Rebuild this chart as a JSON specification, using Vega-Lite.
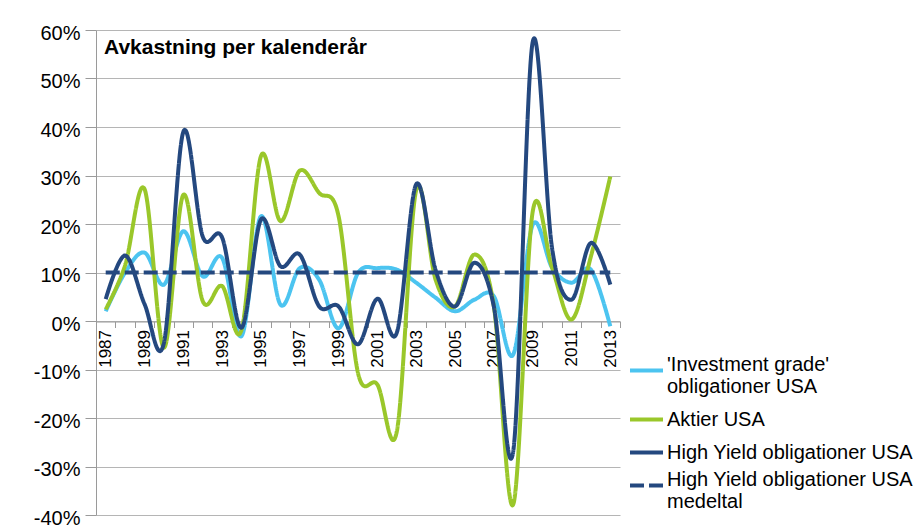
{
  "$schema": "https://vega.github.io/schema/vega-lite/v6.json",
  "width": 524,
  "height": 485,
  "autosize": {"type": "none"},
  "padding": {"left": 96, "top": 30, "right": 304, "bottom": 15},
  "background": "white",
  "config": {"font": "Liberation Sans", "view": {"stroke": null}},
  "title": {"text": "Avkastning per kalenderår", "anchor": "start", "frame": "group", "offset": -35, "dx": 8, "fontSize": 21, "fontWeight": "bold", "font": "Liberation Sans", "color": "#000000"},
  "data": {"values": [
    {"year": 1987, "series": "'Investment grade' obligationer USA", "value": 2.0},
    {"year": 1988, "series": "'Investment grade' obligationer USA", "value": 10.0},
    {"year": 1989, "series": "'Investment grade' obligationer USA", "value": 14.1},
    {"year": 1990, "series": "'Investment grade' obligationer USA", "value": 7.5},
    {"year": 1991, "series": "'Investment grade' obligationer USA", "value": 18.5},
    {"year": 1992, "series": "'Investment grade' obligationer USA", "value": 9.2},
    {"year": 1993, "series": "'Investment grade' obligationer USA", "value": 13.0},
    {"year": 1994, "series": "'Investment grade' obligationer USA", "value": -3.1},
    {"year": 1995, "series": "'Investment grade' obligationer USA", "value": 21.6},
    {"year": 1996, "series": "'Investment grade' obligationer USA", "value": 3.4},
    {"year": 1997, "series": "'Investment grade' obligationer USA", "value": 10.9},
    {"year": 1998, "series": "'Investment grade' obligationer USA", "value": 8.5},
    {"year": 1999, "series": "'Investment grade' obligationer USA", "value": -1.5},
    {"year": 2000, "series": "'Investment grade' obligationer USA", "value": 9.9},
    {"year": 2001, "series": "'Investment grade' obligationer USA", "value": 10.9},
    {"year": 2002, "series": "'Investment grade' obligationer USA", "value": 10.6},
    {"year": 2003, "series": "'Investment grade' obligationer USA", "value": 7.9},
    {"year": 2004, "series": "'Investment grade' obligationer USA", "value": 4.8},
    {"year": 2005, "series": "'Investment grade' obligationer USA", "value": 2.0},
    {"year": 2006, "series": "'Investment grade' obligationer USA", "value": 4.4},
    {"year": 2007, "series": "'Investment grade' obligationer USA", "value": 5.1},
    {"year": 2008, "series": "'Investment grade' obligationer USA", "value": -6.9},
    {"year": 2009, "series": "'Investment grade' obligationer USA", "value": 19.8},
    {"year": 2010, "series": "'Investment grade' obligationer USA", "value": 11.0},
    {"year": 2011, "series": "'Investment grade' obligationer USA", "value": 7.9},
    {"year": 2012, "series": "'Investment grade' obligationer USA", "value": 10.6},
    {"year": 2013, "series": "'Investment grade' obligationer USA", "value": -1.1},
    {"year": 1987, "series": "Aktier USA", "value": 2.4},
    {"year": 1988, "series": "Aktier USA", "value": 11.5},
    {"year": 1989, "series": "Aktier USA", "value": 27.2},
    {"year": 1990, "series": "Aktier USA", "value": -5.5},
    {"year": 1991, "series": "Aktier USA", "value": 26.0},
    {"year": 1992, "series": "Aktier USA", "value": 4.1},
    {"year": 1993, "series": "Aktier USA", "value": 7.2},
    {"year": 1994, "series": "Aktier USA", "value": -1.8},
    {"year": 1995, "series": "Aktier USA", "value": 34.0},
    {"year": 1996, "series": "Aktier USA", "value": 20.6},
    {"year": 1997, "series": "Aktier USA", "value": 31.0},
    {"year": 1998, "series": "Aktier USA", "value": 26.4},
    {"year": 1999, "series": "Aktier USA", "value": 21.6},
    {"year": 2000, "series": "Aktier USA", "value": -10.7},
    {"year": 2001, "series": "Aktier USA", "value": -13.1},
    {"year": 2002, "series": "Aktier USA", "value": -22.8},
    {"year": 2003, "series": "Aktier USA", "value": 27.0},
    {"year": 2004, "series": "Aktier USA", "value": 8.5},
    {"year": 2005, "series": "Aktier USA", "value": 3.0},
    {"year": 2006, "series": "Aktier USA", "value": 13.7},
    {"year": 2007, "series": "Aktier USA", "value": 3.0},
    {"year": 2008, "series": "Aktier USA", "value": -37.8},
    {"year": 2009, "series": "Aktier USA", "value": 22.5},
    {"year": 2010, "series": "Aktier USA", "value": 11.0},
    {"year": 2011, "series": "Aktier USA", "value": 0.3},
    {"year": 2012, "series": "Aktier USA", "value": 13.3},
    {"year": 2013, "series": "Aktier USA", "value": 29.8},
    {"year": 1987, "series": "High Yield obligationer USA", "value": 4.5},
    {"year": 1988, "series": "High Yield obligationer USA", "value": 13.5},
    {"year": 1989, "series": "High Yield obligationer USA", "value": 3.5},
    {"year": 1990, "series": "High Yield obligationer USA", "value": -4.5},
    {"year": 1991, "series": "High Yield obligationer USA", "value": 39.0},
    {"year": 1992, "series": "High Yield obligationer USA", "value": 17.4},
    {"year": 1993, "series": "High Yield obligationer USA", "value": 17.2},
    {"year": 1994, "series": "High Yield obligationer USA", "value": -1.4},
    {"year": 1995, "series": "High Yield obligationer USA", "value": 20.9},
    {"year": 1996, "series": "High Yield obligationer USA", "value": 11.3},
    {"year": 1997, "series": "High Yield obligationer USA", "value": 13.7},
    {"year": 1998, "series": "High Yield obligationer USA", "value": 3.0},
    {"year": 1999, "series": "High Yield obligationer USA", "value": 3.0},
    {"year": 2000, "series": "High Yield obligationer USA", "value": -4.8},
    {"year": 2001, "series": "High Yield obligationer USA", "value": 4.6},
    {"year": 2002, "series": "High Yield obligationer USA", "value": -2.4},
    {"year": 2003, "series": "High Yield obligationer USA", "value": 28.2},
    {"year": 2004, "series": "High Yield obligationer USA", "value": 10.5},
    {"year": 2005, "series": "High Yield obligationer USA", "value": 3.0},
    {"year": 2006, "series": "High Yield obligationer USA", "value": 12.0},
    {"year": 2007, "series": "High Yield obligationer USA", "value": 3.0},
    {"year": 2008, "series": "High Yield obligationer USA", "value": -26.8},
    {"year": 2009, "series": "High Yield obligationer USA", "value": 57.5},
    {"year": 2010, "series": "High Yield obligationer USA", "value": 15.0},
    {"year": 2011, "series": "High Yield obligationer USA", "value": 4.4},
    {"year": 2012, "series": "High Yield obligationer USA", "value": 16.1},
    {"year": 2013, "series": "High Yield obligationer USA", "value": 7.5},
    {"year": 1987, "series": "High Yield obligationer USA medeltal", "value": 10},
    {"year": 1988, "series": "High Yield obligationer USA medeltal", "value": 10},
    {"year": 1989, "series": "High Yield obligationer USA medeltal", "value": 10},
    {"year": 1990, "series": "High Yield obligationer USA medeltal", "value": 10},
    {"year": 1991, "series": "High Yield obligationer USA medeltal", "value": 10},
    {"year": 1992, "series": "High Yield obligationer USA medeltal", "value": 10},
    {"year": 1993, "series": "High Yield obligationer USA medeltal", "value": 10},
    {"year": 1994, "series": "High Yield obligationer USA medeltal", "value": 10},
    {"year": 1995, "series": "High Yield obligationer USA medeltal", "value": 10},
    {"year": 1996, "series": "High Yield obligationer USA medeltal", "value": 10},
    {"year": 1997, "series": "High Yield obligationer USA medeltal", "value": 10},
    {"year": 1998, "series": "High Yield obligationer USA medeltal", "value": 10},
    {"year": 1999, "series": "High Yield obligationer USA medeltal", "value": 10},
    {"year": 2000, "series": "High Yield obligationer USA medeltal", "value": 10},
    {"year": 2001, "series": "High Yield obligationer USA medeltal", "value": 10},
    {"year": 2002, "series": "High Yield obligationer USA medeltal", "value": 10},
    {"year": 2003, "series": "High Yield obligationer USA medeltal", "value": 10},
    {"year": 2004, "series": "High Yield obligationer USA medeltal", "value": 10},
    {"year": 2005, "series": "High Yield obligationer USA medeltal", "value": 10},
    {"year": 2006, "series": "High Yield obligationer USA medeltal", "value": 10},
    {"year": 2007, "series": "High Yield obligationer USA medeltal", "value": 10},
    {"year": 2008, "series": "High Yield obligationer USA medeltal", "value": 10},
    {"year": 2009, "series": "High Yield obligationer USA medeltal", "value": 10},
    {"year": 2010, "series": "High Yield obligationer USA medeltal", "value": 10},
    {"year": 2011, "series": "High Yield obligationer USA medeltal", "value": 10},
    {"year": 2012, "series": "High Yield obligationer USA medeltal", "value": 10},
    {"year": 2013, "series": "High Yield obligationer USA medeltal", "value": 10}
  ]},
  "mark": {"type": "line", "interpolate": "cardinal", "strokeWidth": 4, "strokeCap": "butt"},
  "encoding": {
    "x": {
      "field": "year", "type": "quantitative",
      "scale": {"domain": [1986.5, 2013.5], "nice": false, "zero": false},
      "axis": {
        "values": [1986.5, 1987.5, 1988.5, 1989.5, 1990.5, 1991.5, 1992.5, 1993.5, 1994.5, 1995.5, 1996.5, 1997.5, 1998.5, 1999.5, 2000.5, 2001.5, 2002.5, 2003.5, 2004.5, 2005.5, 2006.5, 2007.5, 2008.5, 2009.5, 2010.5, 2011.5, 2012.5, 2013.5],
        "labelExpr": "(datum.value + 0.5) % 2 == 1 ? '' + (datum.value + 0.5) : ''",
        "labelOffset": 9.7,
        "labelAngle": 270,
        "labelFontSize": 17,
        "labelColor": "#000000",
        "labelPadding": 2,
        "labelFlush": false,
        "labelOverlap": false,
        "labelBound": false,
        "tickSize": 6,
        "tickColor": "#9a9a9a",
        "domainColor": "#9a9a9a",
        "offset": -193.5,
        "title": null,
        "grid": false
      }
    },
    "y": {
      "field": "value", "type": "quantitative",
      "scale": {"domain": [-40, 60], "nice": false},
      "axis": {
        "values": [-40, -30, -20, -10, 0, 10, 20, 30, 40, 50, 60],
        "labelExpr": "datum.value + '%'",
        "labelFontSize": 20,
        "labelColor": "#000000",
        "labelPadding": 5,
        "labelOffset": 3,
        "labelFlush": false,
        "labelOverlap": false,
        "tickSize": 11,
        "tickColor": "#9a9a9a",
        "domainColor": "#9a9a9a",
        "gridColor": "#b5b5b5",
        "gridWidth": 1.2,
        "title": null
      }
    },
    "color": {
      "field": "series", "type": "nominal",
      "scale": {
        "domain": ["'Investment grade' obligationer USA", "Aktier USA", "High Yield obligationer USA", "High Yield obligationer USA medeltal"],
        "range": ["#4cc4f0", "#9ac72a", "#24487f", "#24487f"]
      },
      "legend": {
        "title": null, "orient": "none", "legendX": 532, "legendY": 322,
        "symbolType": "stroke", "symbolSize": 1089, "symbolStrokeWidth": 4,
        "labelFontSize": 20, "labelFont": "Liberation Sans", "labelColor": "#000000", "labelOffset": 2, "labelLimit": 400,
        "rowPadding": 4,
        "labelBaseline": {"expr": "indexof(datum.value, 'Investment') >= 0 || indexof(datum.value, 'medeltal') >= 0 ? 'alphabetic' : 'middle'"},
        "labelExpr": "indexof(datum.label, 'Investment') >= 0 ? [\"'Investment grade'\", 'obligationer USA'] : (indexof(datum.label, 'medeltal') >= 0 ? ['High Yield obligationer USA', 'medeltal'] : datum.label)"
      }
    },
    "strokeDash": {
      "field": "series", "type": "nominal",
      "scale": {
        "domain": ["'Investment grade' obligationer USA", "Aktier USA", "High Yield obligationer USA", "High Yield obligationer USA medeltal"],
        "range": [[1, 0], [1, 0], [1, 0], [14, 5]]
      },
      "legend": {
        "title": null, "orient": "none", "legendX": 532, "legendY": 322,
        "symbolType": "stroke", "symbolSize": 1089, "symbolStrokeWidth": 4,
        "labelFontSize": 20, "labelFont": "Liberation Sans", "labelColor": "#000000", "labelOffset": 2, "labelLimit": 400,
        "rowPadding": 4,
        "labelBaseline": {"expr": "indexof(datum.value, 'Investment') >= 0 || indexof(datum.value, 'medeltal') >= 0 ? 'alphabetic' : 'middle'"},
        "labelExpr": "indexof(datum.label, 'Investment') >= 0 ? [\"'Investment grade'\", 'obligationer USA'] : (indexof(datum.label, 'medeltal') >= 0 ? ['High Yield obligationer USA', 'medeltal'] : datum.label)"
      }
    }
  }
}
